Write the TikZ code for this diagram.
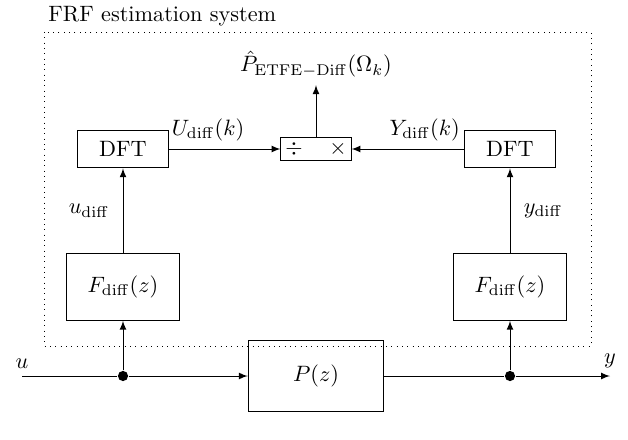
\documentclass[tikz,border=0pt]{standalone}
\usetikzlibrary{positioning}
\begin{document}
\begin{tikzpicture} [
   x=0.45pt, y=-0.45pt, >=latex, auto,
   blk/.style={draw, minimum width=#1, minimum height=17pt},
   fil/.style={draw, minimum width=51pt, minimum height=30pt},
   dot/.style={circle, fill, inner sep=0pt, minimum size=4.6pt}
]
   \useasboundingbox (0,0) rectangle (628,439);
   % estimation system frame
   \draw [dotted] (44,32) rectangle (591,346);
   \node (title) [anchor=base west, inner sep=0pt] at (48,22) {FRF estimation system};
   \node (dftu) [blk=41pt] at (123,149) {DFT};
   \node (dfty) [blk=41pt] at (510,149) {DFT};
   \node (mix) [draw, minimum width=31pt, minimum height=10pt, inner xsep=2pt, inner ysep=0pt]
      at (316,149) {$\div$\hspace{12pt}$\times$};
   \node (phat) at (316,64) {$\hat{P}_{\mathrm{ETFE-Diff}}(\Omega_k)$};
   \node (fdu) [fil] at (123,287) {$F_{\mathrm{diff}}(z)$};
   \node (fdy) [fil] at (510,287) {$F_{\mathrm{diff}}(z)$};
   % plant and signal line
   \node (plant) [draw, minimum width=61pt, minimum height=32pt] at (316,376) {$P(z)$};
   \coordinate (in) at (22,376);
   \coordinate (out) at (610,376);
   \node (du) [dot] at (123,376) {};
   \node (dy) [dot] at (510,376) {};
   \node (u) [above=0pt of in] {$u$};
   \node (y) [above=0pt of out] {$y$};
   \path [->] (in) edge [-] (du)
              (du) edge (plant)
                   edge (fdu)
              (plant) edge [-] (dy)
              (dy) edge (out)
                   edge (fdy)
              (fdu) edge node [inner sep=6pt] {$u_{\mathrm{diff}}$} (dftu)
              (fdy) edge node [swap, inner sep=6pt] {$y_{\mathrm{diff}}$} (dfty)
              (dftu) edge node [pos=0.35] {$U_{\mathrm{diff}}(k)$} (mix)
              (dfty) edge node [swap, pos=0.35] {$Y_{\mathrm{diff}}(k)$} (mix)
              (mix) edge (phat);
\end{tikzpicture}
\end{document}
